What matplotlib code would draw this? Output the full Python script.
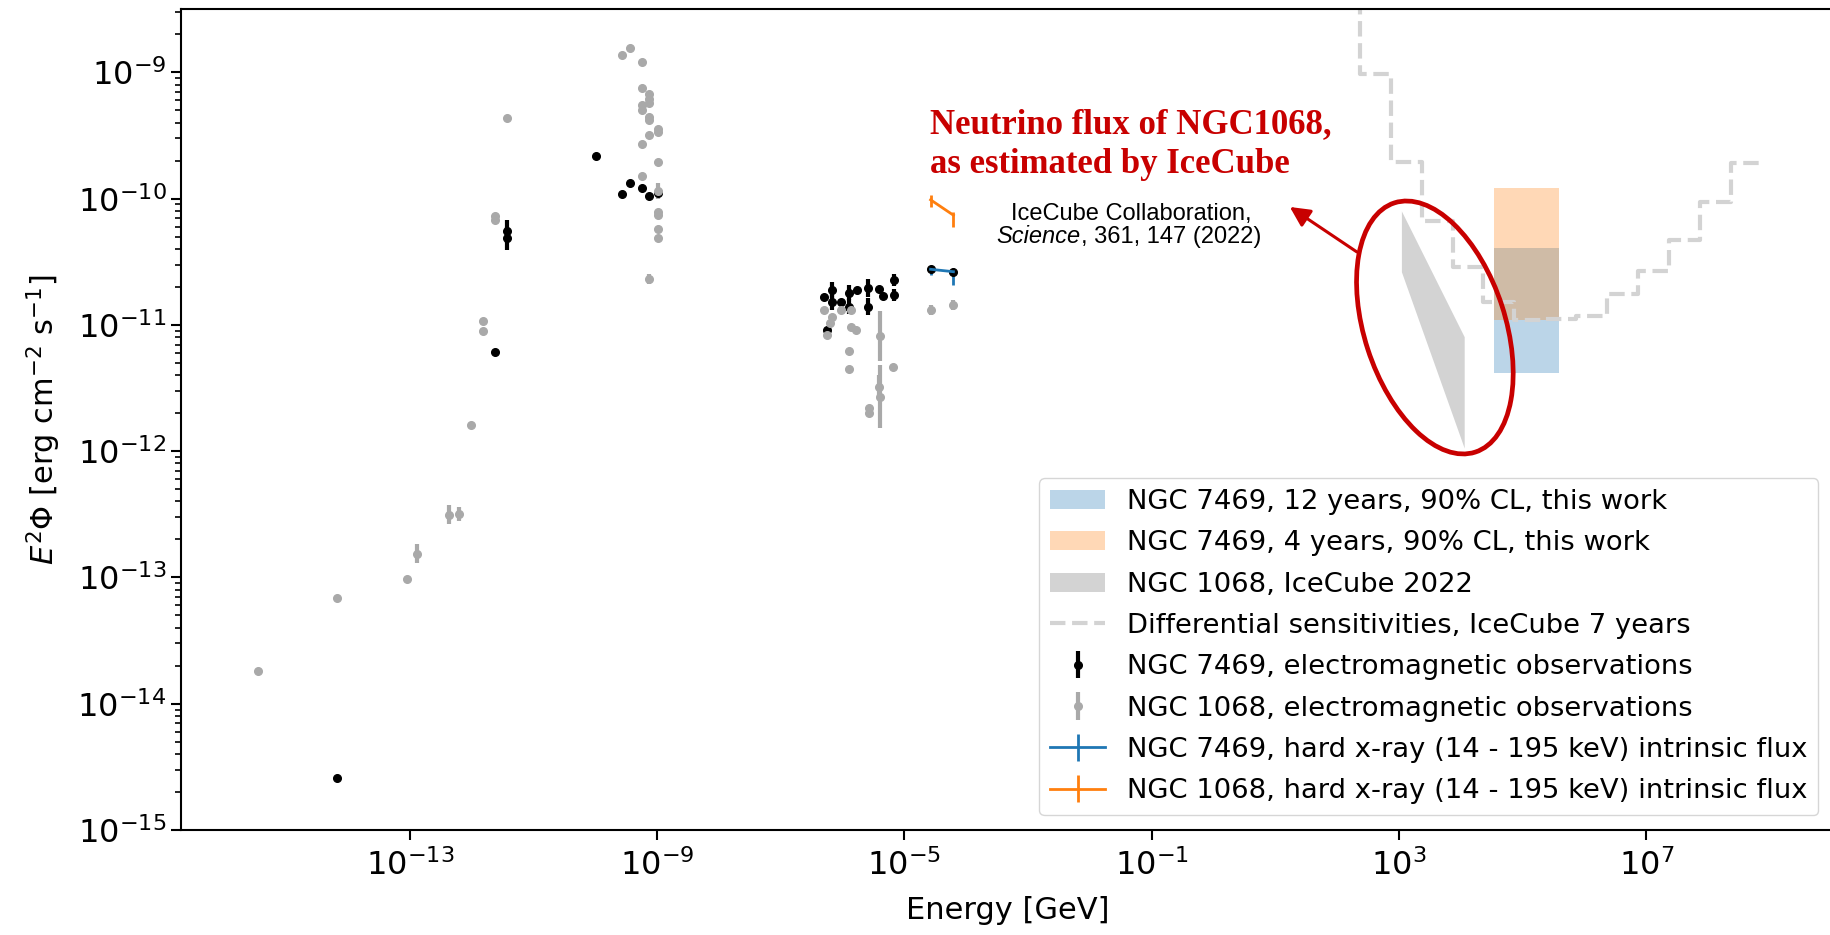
import numpy as np
import matplotlib
matplotlib.use("Agg")
import matplotlib.pyplot as plt
from matplotlib import transforms
from matplotlib.patches import Ellipse

# NGC 7469, electromagnetic observations: energy [GeV], E^2 flux [erg cm^-2 s^-1], error [dex]
n7469_E = [6.67e-15, 2.43e-12, 3.8e-12, 3.8e-12, 1.02e-10, 2.7e-10, 3.7e-10, 5.7e-10, 7.4e-10, 1.03e-9,
           5.02e-7, 5.69e-7, 6.68e-7, 6.68e-7, 9.25e-7, 1.27e-6, 1.27e-6, 1.68e-6, 2.58e-6, 2.58e-6,
           3.89e-6, 4.52e-6, 6.81e-6, 6.81e-6, 2.65e-5, 6.2e-5]
n7469_F = [2.56e-15, 6.1e-12, 5.5e-11, 4.85e-11, 2.19e-10, 1.08e-10, 1.33e-10, 1.22e-10, 1.05e-10, 1.1e-10,
           1.66e-11, 9.2e-12, 1.89e-11, 1.52e-11, 1.51e-11, 1.8e-11, 1.4e-11, 1.89e-11, 1.96e-11, 1.4e-11,
           1.92e-11, 1.7e-11, 2.27e-11, 1.73e-11, 2.76e-11, 2.64e-11]
n7469_err = [0, 0, 0.09, 0.09, 0, 0, 0, 0, 0, 0,
             0, 0, 0.06, 0.06, 0, 0.06, 0.06, 0, 0.07, 0.07,
             0, 0, 0.05, 0.05, 0, 0]

# NGC 1068, electromagnetic observations
n1068_E = [3.5e-16, 6.67e-15, 9.0e-14, 1.29e-13, 4.33e-13, 6.2e-13, 9.7e-13, 1.55e-12, 1.55e-12,
           2.43e-12, 2.43e-12, 3.8e-12,
           2.7e-10, 3.7e-10, 5.7e-10, 5.7e-10, 7.4e-10, 7.4e-10, 7.4e-10, 5.7e-10, 5.7e-10, 7.4e-10,
           7.4e-10, 1.03e-9, 1.03e-9, 7.4e-10, 5.7e-10, 1.03e-9, 5.7e-10, 1.03e-9, 1.03e-9, 1.03e-9,
           1.03e-9, 1.03e-9, 7.4e-10,
           5.02e-7, 6.68e-7, 6.2e-7, 5.69e-7, 9.25e-7, 1.39e-6, 1.39e-6, 1.64e-6, 1.27e-6, 1.27e-6,
           4.0e-6, 3.89e-6, 4.04e-6, 2.68e-6, 2.68e-6, 6.6e-6,
           2.65e-5, 6.2e-5]
n1068_F = [1.83e-14, 6.85e-14, 9.7e-14, 1.54e-13, 3.13e-13, 3.17e-13, 1.61e-12, 1.08e-11, 9.0e-12,
           7.3e-11, 6.8e-11, 4.34e-10,
           1.37e-9, 1.57e-9, 1.21e-9, 7.5e-10, 6.8e-10, 6.2e-10, 5.75e-10, 5.5e-10, 5.0e-10, 4.4e-10,
           4.2e-10, 3.55e-10, 3.4e-10, 3.2e-10, 2.7e-10, 1.96e-10, 1.52e-10, 1.15e-10, 7.9e-11, 7.4e-11,
           5.75e-11, 4.9e-11, 2.3e-11,
           1.32e-11, 1.16e-11, 1.03e-11, 8.3e-12, 1.32e-11, 1.32e-11, 9.7e-12, 9.1e-12, 6.2e-12, 4.5e-12,
           8.2e-12, 3.2e-12, 2.7e-12, 2.19e-12, 2.0e-12, 4.68e-12,
           1.32e-11, 1.44e-11]
n1068_err = [0, 0, 0, 0.075, 0.075, 0.055, 0, 0, 0,
             0, 0, 0,
             0, 0, 0, 0, 0, 0, 0, 0, 0, 0,
             0, 0, 0, 0, 0, 0, 0, 0.065, 0, 0,
             0, 0, 0.04,
             0, 0, 0, 0, 0, 0, 0, 0, 0, 0,
             0.2, 0.1, 0.25, 0, 0, 0,
             0.04, 0.04]

# hard x-ray (14 - 195 keV) intrinsic flux
hx_E = [2.65e-5, 6.2e-5]
hx7469_F = [2.76e-11, 2.64e-11]
hx7469_lo = [2.5e-11, 2.07e-11]
hx7469_hi = [2.9e-11, 2.84e-11]
hx1068_F = [9.8e-11, 7.4e-11]
hx1068_lo = [8.6e-11, 6.0e-11]
hx1068_hi = [1.07e-10, 7.9e-11]

# neutrino upper limits for NGC 7469 (90% CL)
ul_E = [3.49e4, 3.81e5]
ul12_F = [4.2e-12, 4.05e-11]
ul4_F = [1.1e-11, 1.21e-10]

# NGC 1068 IceCube 2022 power-law band
band_E = [1.09e3, 1.13e4]
band_lo = [2.64e-11, 1.06e-12]
band_hi = [8.0e-11, 8.07e-12]

# IceCube 7 yr differential sensitivity, half-decade bins (log10 GeV edges)
sens_logE = [1.865, 2.365, 2.865, 3.365, 3.865, 4.365, 4.865, 5.365, 5.865, 6.365,
             6.865, 7.365, 7.865, 8.365, 8.865]
sens_F = [5e-9, 9.7e-10, 1.94e-10, 6.65e-11, 2.9e-11, 1.53e-11, 1.1e-11, 1.12e-11, 1.18e-11,
          1.77e-11, 2.68e-11, 4.71e-11, 9.4e-11, 1.9e-10]


def dex_err(flux, err):
    flux = np.asarray(flux)
    err = np.asarray(err)
    return [flux - flux * 10 ** -err, flux * 10 ** err - flux]


fig = plt.figure(figsize=(18.31, 9.35), dpi=100)
ax = fig.add_axes([181 / 1831, 1 - 830 / 935, 1654 / 1831, (830 - 9.3) / 935])

ax.fill_between(ul_E, ul12_F[0], ul12_F[1], color="C0", alpha=0.3, lw=0,
                label="NGC 7469, 12 years, 90% CL, this work")
ax.fill_between(ul_E, ul4_F[0], ul4_F[1], color="C1", alpha=0.3, lw=0,
                label="NGC 7469, 4 years, 90% CL, this work")
ax.fill_between(band_E, band_lo, band_hi, color="lightgray", lw=0,
                label="NGC 1068, IceCube 2022")

sens_edges = 10 ** np.array(sens_logE)
ax.plot(sens_edges, np.append(sens_F, sens_F[-1]), drawstyle="steps-post",
        color="lightgray", ls="--", lw=3,
        label="Differential sensitivities, IceCube 7 years")

ax.errorbar(n7469_E, n7469_F, yerr=dex_err(n7469_F, n7469_err), fmt="o", ms=5.5,
            color="black", elinewidth=3, capsize=0,
            label="NGC 7469, electromagnetic observations")
ax.errorbar(n1068_E, n1068_F, yerr=dex_err(n1068_F, n1068_err), fmt="o", ms=5.5,
            color="darkgray", elinewidth=3, capsize=0,
            label="NGC 1068, electromagnetic observations")

hx7469_err = [np.subtract(hx7469_F, hx7469_lo), np.subtract(hx7469_hi, hx7469_F)]
hx1068_err = [np.subtract(hx1068_F, hx1068_lo), np.subtract(hx1068_hi, hx1068_F)]
ax.errorbar(hx_E, hx7469_F, yerr=hx7469_err, color="C0", lw=2, elinewidth=2,
            label="NGC 7469, hard x-ray (14 - 195 keV) intrinsic flux")
ax.errorbar(hx_E, hx1068_F, yerr=hx1068_err, color="C1", lw=2, elinewidth=2,
            label="NGC 1068, hard x-ray (14 - 195 keV) intrinsic flux")

ax.set_xscale("log")
ax.set_yscale("log")
ax.set_xlim(10 ** -16.7, 10 ** 10.05)
ax.set_ylim(1e-15, 10 ** -8.5)
ax.set_xticks([1e-13, 1e-9, 1e-5, 1e-1, 1e3, 1e7])
ax.xaxis.set_minor_locator(matplotlib.ticker.NullLocator())
ax.set_yticks([1e-15, 1e-14, 1e-13, 1e-12, 1e-11, 1e-10, 1e-9])
ax.tick_params(which="major", labelsize=23, length=7, width=1.5)
ax.tick_params(which="minor", length=4, width=1.2)
ax.tick_params(axis="x", pad=7)
for side in ["left", "bottom", "top"]:
    ax.spines[side].set_linewidth(1.5)
ax.spines["right"].set_visible(False)

ax.set_xlabel("Energy [GeV]", fontsize=22, labelpad=10)
ax.set_ylabel(r"$E^2\Phi$ [erg cm$^{-2}$ s$^{-1}$]", fontsize=22, labelpad=10)

ax.legend(loc="lower right", bbox_to_anchor=(0.990, 0.018), borderaxespad=0,
          fontsize=19.7, labelspacing=0.56)

# highlight of the IceCube NGC 1068 flux
red = "#c80000"
ring = Ellipse((0, 0), width=1.41, height=2.62, angle=18, fill=False, ec=red, lw=3.4,
               transform=fig.dpi_scale_trans + transforms.ScaledTranslation(3.79e3, 9.55e-12, ax.transData),
               zorder=5)
ax.add_patch(ring)
ax.annotate("", xy=(17.1, 8.6e-11), xytext=(207, 3.79e-11),
            arrowprops=dict(arrowstyle="-|>", color=red, lw=2.2, mutation_scale=30,
                            shrinkA=0, shrinkB=0), zorder=5)
ax.text(10 ** -4.58, 5.2e-10, "Neutrino flux of NGC1068,\nas estimated by IceCube",
        family="Liberation Serif", weight="bold", fontsize=25, color=red,
        ha="left", va="top", linespacing=1.25)
ax.text(10 ** -1.339, 7.6e-11, "IceCube Collaboration,", family="Liberation Sans",
        fontsize=17, ha="center", va="center")
ax.text(10 ** -2.15, 4.98e-11, "Science", family="Liberation Sans", style="italic",
        fontsize=17, ha="right", va="center")
ax.text(10 ** -2.15, 4.98e-11, ", 361, 147 (2022)", family="Liberation Sans",
        fontsize=17, ha="left", va="center")

fig.savefig("out.png", dpi=100)
